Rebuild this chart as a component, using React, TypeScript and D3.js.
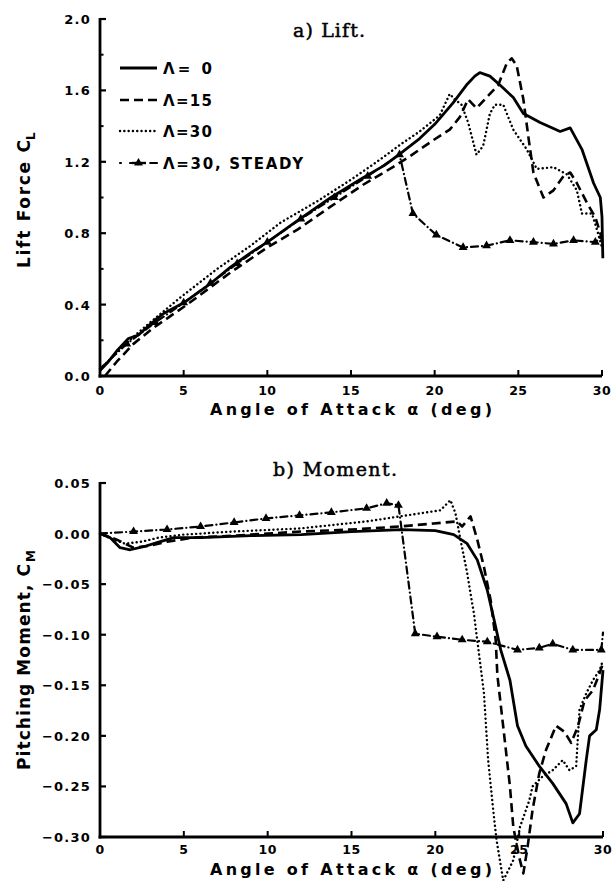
import React from 'react';
import * as d3 from 'd3';

type Pt = [number, number];

// ---------- ticks ----------
const alphaTicks = [0, 5, 10, 15, 20, 25, 30];
const liftTicks = [0, 0.4, 0.8, 1.2, 1.6, 2.0];
const liftTickLabels = ['0.0', '0.4', '0.8', '1.2', '1.6', '2.0'];
const liftMinorTicks = [0.2, 0.6, 1.0, 1.4, 1.8];
const momentTicks = [0.05, 0, -0.05, -0.1, -0.15, -0.2, -0.25, -0.3];
const momentTickLabels = ['0.05', '0.00', '−0.05', '−0.10', '−0.15', '−0.20', '−0.25', '−0.30'];

const seriesNames = ['Λ= 0', 'Λ=15', 'Λ=30', 'Λ=30,  STEADY'];

// ---------- lift coefficient C_L vs alpha ----------
const liftL0: Pt[] = [
  [0, 0.03], [0.5, 0.08], [1, 0.14], [1.7, 0.21], [2.3, 0.23], [3, 0.29], [3.8, 0.35], [5, 0.41],
  [6.5, 0.51], [7.8, 0.61], [9, 0.69], [10, 0.75], [11.8, 0.87], [13.8, 1.0], [15.7, 1.11], [17, 1.18],
  [18, 1.25], [19.1, 1.33], [20, 1.41], [21.1, 1.53], [21.9, 1.63], [22.4, 1.68], [22.7, 1.7], [23, 1.69],
  [23.3, 1.68], [23.9, 1.63], [24.7, 1.56], [25.3, 1.47], [26.3, 1.42], [27.5, 1.37], [28.1, 1.39],
  [28.8, 1.27], [29.5, 1.08], [29.9, 1.0], [30, 0.89], [30.05, 0.66],
];
const liftL15: Pt[] = [
  [0.3, 0.0], [1, 0.08], [2, 0.18], [3.2, 0.27], [5.2, 0.4], [7.8, 0.58], [10, 0.72], [11.8, 0.82],
  [13.8, 0.95], [15.7, 1.07], [17.5, 1.17], [18.5, 1.23], [19.9, 1.32], [20.9, 1.38], [21.5, 1.45],
  [22.0, 1.55], [22.5, 1.5], [23.1, 1.56], [23.8, 1.63], [24.3, 1.75], [24.6, 1.78], [24.9, 1.74],
  [25.3, 1.55], [25.6, 1.34], [25.9, 1.14], [26.5, 1.0], [27.1, 1.04], [27.7, 1.12], [28.1, 1.14],
  [28.5, 1.08], [29.1, 0.97], [29.6, 0.89], [29.9, 0.8], [30, 0.76],
];
const liftL30: Pt[] = [
  [0, 0.04], [1, 0.13], [2, 0.22], [3, 0.3], [4.8, 0.44], [7, 0.6], [9, 0.73], [10.8, 0.86], [13, 0.98],
  [15, 1.1], [16.7, 1.21], [18, 1.3], [19.1, 1.37], [20.3, 1.46], [20.9, 1.58], [21.2, 1.55], [21.6, 1.52],
  [22.0, 1.42], [22.5, 1.24], [22.9, 1.29], [23.3, 1.47], [23.6, 1.52], [24.1, 1.52], [24.7, 1.38],
  [25.5, 1.27], [26.1, 1.16], [27.1, 1.17], [27.9, 1.13], [28.5, 1.04], [28.8, 0.91], [29.4, 0.91],
  [29.7, 0.82], [30, 0.72],
];
const liftSteady: Pt[] = [
  [0, 0.04], [1.6, 0.18], [3.3, 0.3], [5, 0.41], [6.6, 0.52], [8.2, 0.63], [10, 0.75], [12, 0.88],
  [14, 1.0], [16, 1.12], [17.9, 1.24], [18.7, 0.91], [20.1, 0.79], [21.7, 0.72], [23.1, 0.73],
  [24.5, 0.76], [25.9, 0.75], [27.1, 0.74], [28.3, 0.76], [29.6, 0.75], [30, 0.78],
];

// ---------- pitching moment C_M vs alpha ----------
const momL0: Pt[] = [
  [0, 0], [0.6, -0.004], [1.2, -0.014], [1.8, -0.016], [2.6, -0.013], [3.4, -0.009], [4.4, -0.004],
  [6, -0.004], [9, -0.002], [12, -0.001], [15, 0.002], [18, 0.004], [20, 0.003], [21.1, -0.001],
  [21.9, -0.01], [22.5, -0.026], [23.1, -0.056], [23.5, -0.085], [23.9, -0.115], [24.45, -0.145],
  [24.9, -0.19], [25.4, -0.21], [26.2, -0.23], [27, -0.247], [27.8, -0.267], [28.2, -0.286],
  [28.6, -0.277], [29, -0.224], [29.2, -0.2], [29.6, -0.194], [29.8, -0.174], [30, -0.135],
];
const momL15: Pt[] = [
  [0, 0], [1, -0.006], [2, -0.014], [3, -0.012], [4, -0.008], [5.6, -0.004], [8, -0.002], [10, 0.0],
  [12, 0.002], [15, 0.004], [17.9, 0.007], [19.9, 0.01], [21.3, 0.012], [21.6, 0.007], [22.1, 0.017],
  [22.5, -0.006], [22.9, -0.033], [23.3, -0.066], [23.6, -0.105], [23.7, -0.14], [24.05, -0.191],
  [24.45, -0.25], [24.65, -0.29], [25.0, -0.32], [25.25, -0.336], [25.5, -0.31], [25.8, -0.273],
  [26.2, -0.237], [26.6, -0.214], [27.2, -0.19], [27.7, -0.196], [28.1, -0.207], [28.5, -0.191],
  [28.9, -0.165], [29.4, -0.155], [29.8, -0.138], [30, -0.128],
];
const momL30: Pt[] = [
  [0, 0.0], [0.8, -0.006], [1.5, -0.01], [2.5, -0.008], [3.5, -0.004], [5, -0.001], [8, 0.002],
  [11.9, 0.005], [15.9, 0.012], [17.9, 0.017], [20.3, 0.023], [20.9, 0.033], [21.2, 0.02], [21.5, -0.006],
  [21.9, -0.039], [22.3, -0.079], [22.65, -0.125], [22.9, -0.158], [23.15, -0.224], [23.45, -0.273],
  [23.65, -0.303], [24.05, -0.343], [24.65, -0.323], [25.05, -0.29], [25.6, -0.264], [25.8, -0.25],
  [26.4, -0.24], [27.0, -0.234], [27.6, -0.224], [28.0, -0.234], [28.4, -0.23], [28.6, -0.174],
  [29.0, -0.158], [29.4, -0.145], [29.8, -0.135], [30, -0.125],
];
const momSteady: Pt[] = [
  [0, 0], [2, 0.002], [4, 0.004], [6, 0.007], [8, 0.011], [9.9, 0.015], [11.9, 0.018], [13.8, 0.021],
  [15.9, 0.025], [17.1, 0.03], [17.8, 0.028], [18.8, -0.099], [20.1, -0.102], [21.6, -0.105],
  [23.1, -0.107], [24.9, -0.115], [26.2, -0.113], [27.0, -0.109], [28.2, -0.115], [29.9, -0.115],
  [30, -0.098],
];

const liftSeries = [liftL0, liftL15, liftL30, liftSteady];
const momentSeries = [momL0, momL15, momL30, momSteady];

// ---------- styles ----------
const styles = [
  { dash: undefined as string | undefined, width: 2.8, cap: 'butt' },
  { dash: '9 5', width: 2.6, cap: 'butt' },
  { dash: '0.1 4.2', width: 2.4, cap: 'round' },
  { dash: '7 4 0.1 4', width: 2.2, cap: 'round' },
];

const SANS = '"DejaVu Sans", sans-serif';
const SERIF = '"DejaVu Serif", serif';

const triPath = d3.symbol().type(d3.symbolTriangle).size(34)() as string;

function Panel(props: {
  x: d3.ScaleLinear<number, number>;
  y: d3.ScaleLinear<number, number>;
  series: Pt[][];
  yTicks: number[];
  yLabels: string[];
  yMinor: number[];
  tickLabelY: number;
  xLabelY: number;
}) {
  const { x, y, series, yTicks, yLabels, yMinor, tickLabelY, xLabelY } = props;
  const line = d3
    .line<Pt>()
    .x((d) => x(d[0]))
    .y((d) => y(d[1]));
  const [y0, y1] = y.range();
  const [x0, x1] = x.range();
  return (
    <g>
      {/* data */}
      {series.map((s, i) => (
        <path
          key={i}
          d={line(s) as string}
          fill="none"
          stroke="#000"
          strokeWidth={styles[i].width}
          strokeDasharray={styles[i].dash}
          strokeLinecap={styles[i].cap as any}
          strokeLinejoin="round"
        />
      ))}
      {series[3].slice(1, -1).map((d, i) => (
        <path key={'m' + i} d={triPath} transform={`translate(${x(d[0])},${y(d[1])})`} fill="#000" />
      ))}
      {/* axes */}
      <line x1={x0} x2={x0} y1={y1 - 1} y2={y0 + 1.5} stroke="#000" strokeWidth={2.8} />
      <line x1={x0 - 1.4} x2={x1} y1={y0} y2={y0} stroke="#000" strokeWidth={2.8} />
      {yTicks.map((t, i) => (
        <g key={'yt' + i}>
          <line x1={x0} x2={x0 + 6} y1={y(t)} y2={y(t)} stroke="#000" strokeWidth={2.2} />
          <text
            x={x0 - 9}
            y={y(t) + 5}
            textAnchor="end"
            fontFamily={SANS}
            fontWeight="bold"
            fontSize={13}
            letterSpacing={1.2}
          >
            {yLabels[i]}
          </text>
        </g>
      ))}
      {yMinor.map((t, i) => (
        <line key={'ym' + i} x1={x0} x2={x0 + 3.5} y1={y(t)} y2={y(t)} stroke="#000" strokeWidth={2} />
      ))}
      {alphaTicks.map((t, i) => (
        <g key={'xt' + i}>
          <line x1={x(t)} x2={x(t)} y1={y0} y2={y0 - 6} stroke="#000" strokeWidth={2} />
          <text
            x={x(t)}
            y={tickLabelY}
            textAnchor="middle"
            fontFamily={SANS}
            fontWeight="bold"
            fontSize={12.5}
            letterSpacing={0.5}
          >
            {t}
          </text>
        </g>
      ))}
      <text
        x={210}
        y={xLabelY}
        fontFamily={SANS}
        fontWeight="bold"
        fontSize={16}
        textLength={282}
        lengthAdjust="spacing"
      >
        Angle of Attack α (deg)
      </text>
    </g>
  );
}

export default function App() {
  const xLift = d3.scaleLinear().domain([0, 30]).range([100, 602]);
  const yLift = d3.scaleLinear().domain([0, 2.0]).range([376, 19]);
  const xMom = d3.scaleLinear().domain([0, 30]).range([100, 603]);
  const yMom = d3.scaleLinear().domain([-0.3, 0.05]).range([837, 483]);

  const legendRows = [68, 100, 131, 163];
  const legendWidths = [49, 49, 49, 140];

  return (
    <svg
      width={613}
      height={881}
      viewBox="0 0 613 881"
      style={{ position: 'absolute', left: 0, top: 0, background: '#fff' }}
    >
      <rect x={0} y={0} width={613} height={881} fill="#fff" />
      {/* titles */}
      <text x={293} y={37} fontFamily={SERIF} fontSize={19} stroke="#000" strokeWidth={0.5} textLength={72} lengthAdjust="spacing">
        a) Lift.
      </text>
      <text x={273} y={476} fontFamily={SERIF} fontSize={19} stroke="#000" strokeWidth={0.5} textLength={124} lengthAdjust="spacing">
        b) Moment.
      </text>

      {/* y labels */}
      <text transform="translate(30,268) rotate(-90)" fontFamily={SANS} fontWeight="bold" fontSize={17} textLength={128} lengthAdjust="spacing">
        Lift Force C
      </text>
      <text transform="translate(35,140) rotate(-90)" fontFamily={SANS} fontWeight="bold" fontSize={12}>
        L
      </text>
      <text transform="translate(30,770) rotate(-90)" fontFamily={SANS} fontWeight="bold" fontSize={17} textLength={206} lengthAdjust="spacing">
        Pitching Moment, C
      </text>
      <text transform="translate(35,562) rotate(-90)" fontFamily={SANS} fontWeight="bold" fontSize={12}>
        M
      </text>

      <Panel
        x={xLift}
        y={yLift}
        series={liftSeries}
        yTicks={liftTicks}
        yLabels={liftTickLabels}
        yMinor={liftMinorTicks}
        tickLabelY={395}
        xLabelY={415}
      />
      <Panel
        x={xMom}
        y={yMom}
        series={momentSeries}
        yTicks={momentTicks}
        yLabels={momentTickLabels}
        yMinor={[]}
        tickLabelY={854}
        xLabelY={875}
      />

      {/* legend */}
      {seriesNames.map((name, i) => (
        <g key={'lg' + i}>
          <line
            x1={120}
            x2={157}
            y1={legendRows[i]}
            y2={legendRows[i]}
            stroke="#000"
            strokeWidth={styles[i].width}
            strokeDasharray={i === 3 ? '1 9 0.1' : styles[i].dash}
            strokeLinecap={styles[i].cap as any}
          />
          {i === 3 && <path d={triPath} transform={`translate(138.5,${legendRows[i]})`} fill="#000" />}
          {i === 3 && (
            <line x1={132} x2={146} y1={legendRows[i]} y2={legendRows[i]} stroke="#000" strokeWidth={2.4} />
          )}
          <text
            x={163}
            y={legendRows[i] + 6}
            fontFamily={SANS}
            fontWeight="bold"
            fontSize={15}
            textLength={legendWidths[i]}
            lengthAdjust="spacing"
          >
            {name}
          </text>
        </g>
      ))}
    </svg>
  );
}
